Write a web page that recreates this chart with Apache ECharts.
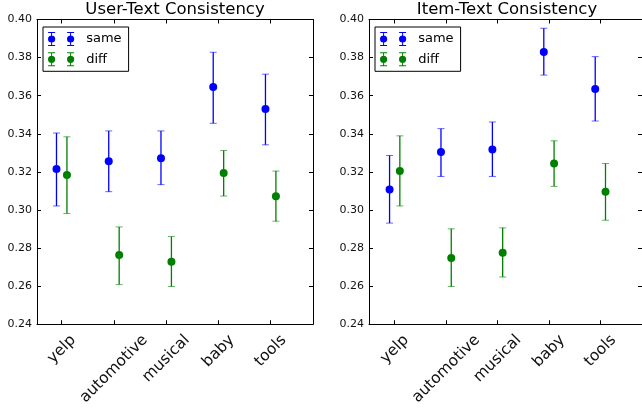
<!DOCTYPE html>
<html>
<head>
<meta charset="utf-8">
<script src="https://cdn.jsdelivr.net/npm/echarts@6/dist/echarts.min.js"></script>
<style>
html,body{margin:0;padding:0;background:#fff;}
#c{width:642px;height:408px;}
</style>
</head>
<body>
<div id="c"></div>
<script>
// ---- data ----
const categories = ['yelp', 'automotive', 'musical', 'baby', 'tools'];
const yTickMin = 0.24;
const yTickMax = 0.40;
const yTickStep = 0.02;

// User-Text Consistency
const userSame     = [0.3215, 0.3256, 0.3272, 0.3645, 0.3530];
const userSameLow  = [0.3021, 0.3096, 0.3133, 0.3455, 0.3342];
const userSameHigh = [0.3404, 0.3415, 0.3415, 0.3828, 0.3713];
const userDiff     = [0.3183, 0.2763, 0.2728, 0.3194, 0.3072];
const userDiffLow  = [0.2981, 0.2608, 0.2598, 0.3073, 0.2941];
const userDiffHigh = [0.3384, 0.2911, 0.2861, 0.3312, 0.3204];

// Item-Text Consistency
const itemSame     = [0.3108, 0.3304, 0.3318, 0.3830, 0.3635];
const itemSameLow  = [0.2931, 0.3176, 0.3176, 0.3708, 0.3467];
const itemSameHigh = [0.3286, 0.3427, 0.3462, 0.3954, 0.3805];
const itemDiff     = [0.3204, 0.2748, 0.2775, 0.3244, 0.3096];
const itemDiffLow  = [0.3021, 0.2598, 0.2648, 0.3124, 0.2946];
const itemDiffHigh = [0.3389, 0.2901, 0.2906, 0.3363, 0.3244];

const titles = ['User-Text Consistency', 'Item-Text Consistency'];

// ---- styling / layout ----
const FONT = 'DejaVu Sans';
const BLUE = '#0000ff';
const GREEN = '#008000';
const LABEL_SIZE = 15.5;
const OFFSET = 0.1;
const tickPos = categories.map((_, i) => i);

// per-label padding so rotated labels are centred under their tick (matplotlib style)
const mctx = document.createElement('canvas').getContext('2d');
mctx.font = LABEL_SIZE + 'px "' + FONT + '"';
const rich = {};
categories.forEach((c, i) => {
  const L = mctx.measureText(c).width;
  const off = (L + 18) / (2 * Math.SQRT2) + 7;
  const p = off * Math.SQRT2;
  rich['c' + i] = { fontSize: LABEL_SIZE, fontFamily: FONT, color: '#111', padding: [p, p, 0, 0] };
});

const ICON = 'path://M0.4,7A3.6,3.6 0 1,1 7.6,7A3.6,3.6 0 1,1 0.4,7Z' +
  'M3.5,0H4.5V14H3.5Z M0.5,0H7.5V1H0.5Z M0.5,13H7.5V14H0.5Z' +
  'M19.4,7A3.6,3.6 0 1,1 26.6,7A3.6,3.6 0 1,1 19.4,7Z' +
  'M22.5,0H23.5V14H22.5Z M19.5,0H26.5V1H19.5Z M19.5,13H26.5V14H19.5Z';

const grids = [
  { left: 37, top: 19.5, width: 276, height: 306 },
  { left: 369, top: 19.5, width: 276, height: 306 }
];
const xRanges = [[-0.473, 4.81], [-0.5, 4.81]];
const legendLeft = [43, 375];

const xAxes = [];
const yAxes = [];
grids.forEach((g, gi) => {
  ['bottom', 'top'].forEach(pos => {
    xAxes.push({
      type: 'value', gridIndex: gi, position: pos,
      min: xRanges[gi][0], max: xRanges[gi][1],
      axisLine: { show: true, onZero: false, lineStyle: { color: '#000', width: 1 } },
      axisTick: { show: true, inside: true, length: 4, customValues: tickPos, lineStyle: { color: '#000', width: 1 } },
      axisLabel: pos === 'bottom' ? {
        show: true, customValues: tickPos, rotate: 45, align: 'center', verticalAlign: 'middle', margin: 0,
        formatter: v => { const i = Math.round(v); return '{c' + i + '|' + categories[i] + '}'; },
        rich: rich
      } : { show: false },
      splitLine: { show: false }
    });
  });
  ['left', 'right'].forEach(pos => {
    yAxes.push({
      type: 'value', gridIndex: gi, position: pos,
      min: yTickMin, max: yTickMax, interval: yTickStep,
      axisLine: { show: true, onZero: false, lineStyle: { color: '#000', width: 1 } },
      axisTick: { show: true, inside: true, length: 4, lineStyle: { color: '#000', width: 1 } },
      axisLabel: pos === 'left' ? {
        show: true, margin: 5, fontSize: 11, fontFamily: FONT, color: '#111',
        formatter: v => v.toFixed(2)
      } : { show: false },
      splitLine: { show: false }
    });
  });
});

function errSeries(name, gi, color, mean, low, high, shift) {
  return {
    type: 'custom', name: name, xAxisIndex: gi * 2, yAxisIndex: gi * 2, z: 2,
    silent: true,
    data: mean.map((_, i) => [i + shift, low[i], high[i]]),
    encode: { x: 0, y: [1, 2] },
    renderItem: (params, api) => {
      const x = api.value(0);
      const a = api.coord([x, api.value(1)]);
      const b = api.coord([x, api.value(2)]);
      const cw = 3.5;
      return {
        type: 'group', children: [
          { type: 'line', shape: { x1: a[0], y1: a[1], x2: b[0], y2: b[1] }, style: { stroke: color, lineWidth: 1.3, opacity: 1 } },
          { type: 'line', shape: { x1: a[0] - cw, y1: a[1], x2: a[0] + cw, y2: a[1] }, style: { stroke: color, lineWidth: 1, opacity: 0.6 } },
          { type: 'line', shape: { x1: b[0] - cw, y1: b[1], x2: b[0] + cw, y2: b[1] }, style: { stroke: color, lineWidth: 1, opacity: 0.6 } }
        ]
      };
    }
  };
}
function ptSeries(name, gi, color, mean, shift) {
  return {
    type: 'scatter', name: name, xAxisIndex: gi * 2, yAxisIndex: gi * 2, z: 3,
    symbol: 'circle', symbolSize: 8,
    itemStyle: { color: color, opacity: 1 },
    emphasis: { disabled: true },
    data: mean.map((v, i) => [i + shift, v])
  };
}

const panels = [
  { same: userSame, sameLow: userSameLow, sameHigh: userSameHigh, diff: userDiff, diffLow: userDiffLow, diffHigh: userDiffHigh },
  { same: itemSame, sameLow: itemSameLow, sameHigh: itemSameHigh, diff: itemDiff, diffLow: itemDiffLow, diffHigh: itemDiffHigh }
];
const series = [];
panels.forEach((p, gi) => {
  series.push(ptSeries('same', gi, BLUE, p.same, -OFFSET));
  series.push(ptSeries('diff', gi, GREEN, p.diff, OFFSET));
  series.push(errSeries('same-err', gi, BLUE, p.same, p.sameLow, p.sameHigh, -OFFSET));
  series.push(errSeries('diff-err', gi, GREEN, p.diff, p.diffLow, p.diffHigh, OFFSET));
});

const option = {
  animation: false,
  backgroundColor: '#fff',
  title: grids.map((g, gi) => ({
    text: titles[gi], left: g.left + g.width / 2, top: 1, textAlign: 'center', padding: 0,
    textStyle: { fontSize: 16.5, fontWeight: 'normal', fontFamily: FONT, color: '#000' }
  })),
  legend: legendLeft.map(l => ({
    left: l, top: 27, orient: 'vertical',
    data: [{ name: 'same', icon: ICON }, { name: 'diff', icon: ICON }],
    itemWidth: 26.2, itemHeight: 14, itemGap: 6.3,
    padding: [5, 7, 5, 5],
    backgroundColor: '#fff', borderColor: '#000', borderWidth: 1, borderRadius: 0,
    selectedMode: false,
    textStyle: { fontSize: 13, fontFamily: FONT, color: '#000', padding: [0, 0, 0, 7] }
  })),
  grid: grids,
  xAxis: xAxes,
  yAxis: yAxes,
  series: series
};

const chart = echarts.init(document.getElementById('c'), null, { renderer: 'canvas' });
chart.setOption(option);
</script>
</body>
</html>
